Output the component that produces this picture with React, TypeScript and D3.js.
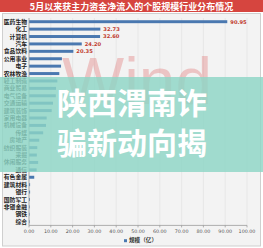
import * as d3 from "d3";

const W = 263;
const H = 248;

const title = "5月以来获主力资金净流入的个股规模行业分布情况";

const industries = [
  "医药生物", "化工", "计算机", "汽车", "食品饮料", "公用事业", "电子", "农林牧渔",
  "轻工制造", "商业贸易", "电气设备", "交通运输", "建筑装饰", "家用电器", "机械设备", "传媒",
  "房地产", "纺织服装", "采掘", "休闲服务", "通信", "有色金属", "建筑材料", "银行",
  "国防军工", "非银金融", "钢铁", "综合",
];

const amounts = [
  90.95, 32.73, 32.6, 24.2, 20.35, 15.1, 14.7, 13.9,
  13.0, 12.4, 12.3, 11.0, 10.4, 8.1, 7.8, 6.5,
  4.7, 3.8, 3.6, 4.2, 3.5, 2.4, 0.5, 0.5,
  0.4, 0.3, 0.2, 0.1,
];

const labeledBars = 5; // only the top few carry a value label
const legendLabel = "规模（亿）";

const overlayLines = ["陕西渭南诈", "骗新动向揭"];

const cjk = "'Noto Sans CJK SC', 'Noto Sans', sans-serif";

export default function App() {
  const margin = { top: 18, left: 29, right: 16, bottom: 22.6 };
  const plotBottom = H - margin.bottom;

  const x = d3.scaleLinear().domain([0, 100]).range([margin.left, W - margin.right]);
  const y = d3
    .scaleBand<string>()
    .domain(industries)
    .range([margin.top, plotBottom])
    .paddingInner(0.6)
    .paddingOuter(0.3);

  const ticks = x.ticks(10);
  const fmt = d3.format(".2f");

  return (
    <svg
      width={W}
      height={H}
      style={{ position: "absolute", left: 0, top: 0, display: "block" }}
    >
      <rect x={0} y={0} width={W} height={H} fill="#ffffff" />

      {/* title bar */}
      <rect x={0} y={0} width={W} height={12} fill="#d6453f" />
      <text
        x={W / 2}
        y={9.6}
        textAnchor="middle"
        fontFamily={cjk}
        fontWeight="bold"
        fontSize={9}
        fill="#ffffff"
      >
        {title}
      </text>

      {/* chart frame */}
      <rect x={2.5} y={13.5} width={W - 5} height={H - 15.5} fill="#f3f3f3" stroke="#cfcfcf" />

      {/* grid */}
      {ticks.map((t) => (
        <line key={"g" + t} x1={x(t)} x2={x(t)} y1={margin.top} y2={plotBottom} stroke="#e3e3e3" strokeWidth={0.8} />
      ))}

      {/* watermark */}
      <text
        x={62}
        y={104}
        textLength={150}
        lengthAdjust="spacingAndGlyphs"
        fontFamily="'Liberation Sans', Arial, sans-serif"
        fontSize={66}
        fill="#e27a7a"
        opacity={0.38}
      >
        Wind
      </text>

      {/* bars */}
      {industries.map((name, i) => (
        <rect
          key={name}
          x={x(0)}
          y={y(name)}
          width={Math.max(0.6, x(amounts[i]) - x(0))}
          height={y.bandwidth()}
          fill="#4a78b0"
        />
      ))}

      {/* value labels */}
      {industries.slice(0, labeledBars).map((name, i) => (
        <text
          key={"v" + name}
          x={x(amounts[i]) + 3}
          y={(y(name) ?? 0) + y.bandwidth() / 2}
          dy="0.35em"
          fontFamily="'DejaVu Sans', sans-serif"
          fontWeight="bold"
          fontSize={5.2}
          fill="#c0392b"
        >
          {fmt(amounts[i])}
        </text>
      ))}

      {/* category labels */}
      {industries.map((name) => (
        <text
          key={"c" + name}
          x={margin.left - 2}
          y={(y(name) ?? 0) + y.bandwidth() / 2}
          dy="0.35em"
          textAnchor="end"
          fontFamily={cjk}
          fontWeight="bold"
          fontSize={5.8}
          fill="#222222"
        >
          {name}
        </text>
      ))}

      {/* axes */}
      <line x1={x(0)} x2={x(0)} y1={margin.top} y2={plotBottom} stroke="#9a9a9a" strokeWidth={0.8} />
      <line x1={x(0)} x2={x(100)} y1={plotBottom} y2={plotBottom} stroke="#9a9a9a" strokeWidth={0.8} />
      {ticks.map((t) => (
        <g key={"t" + t}>
          <line x1={x(t)} x2={x(t)} y1={plotBottom} y2={plotBottom + 2} stroke="#9a9a9a" strokeWidth={0.8} />
          <text
            x={x(t)}
            y={plotBottom + 7.5}
            textAnchor="middle"
            fontFamily="'DejaVu Sans', sans-serif"
            fontSize={4.8}
            fill="#555555"
          >
            {fmt(t)}
          </text>
        </g>
      ))}

      {/* legend */}
      <rect x={124} y={239.2} width={3} height={3} fill="#4a78b0" />
      <text x={129} y={242.4} fontFamily={cjk} fontWeight="bold" fontSize={5.6} fill="#333333">
        {legendLabel}
      </text>

      {/* overlay band */}
      <rect x={0} y={77} width={W} height={95} fill="#8ed6c6" opacity={0.82} />
      {overlayLines.map((line, i) => (
        <text
          key={line}
          x={57}
          y={114 + i * 40}
          fontFamily={cjk}
          fontWeight="bold"
          fontSize={30}
          fill="#ffffff"
        >
          {line}
        </text>
      ))}
    </svg>
  );
}
